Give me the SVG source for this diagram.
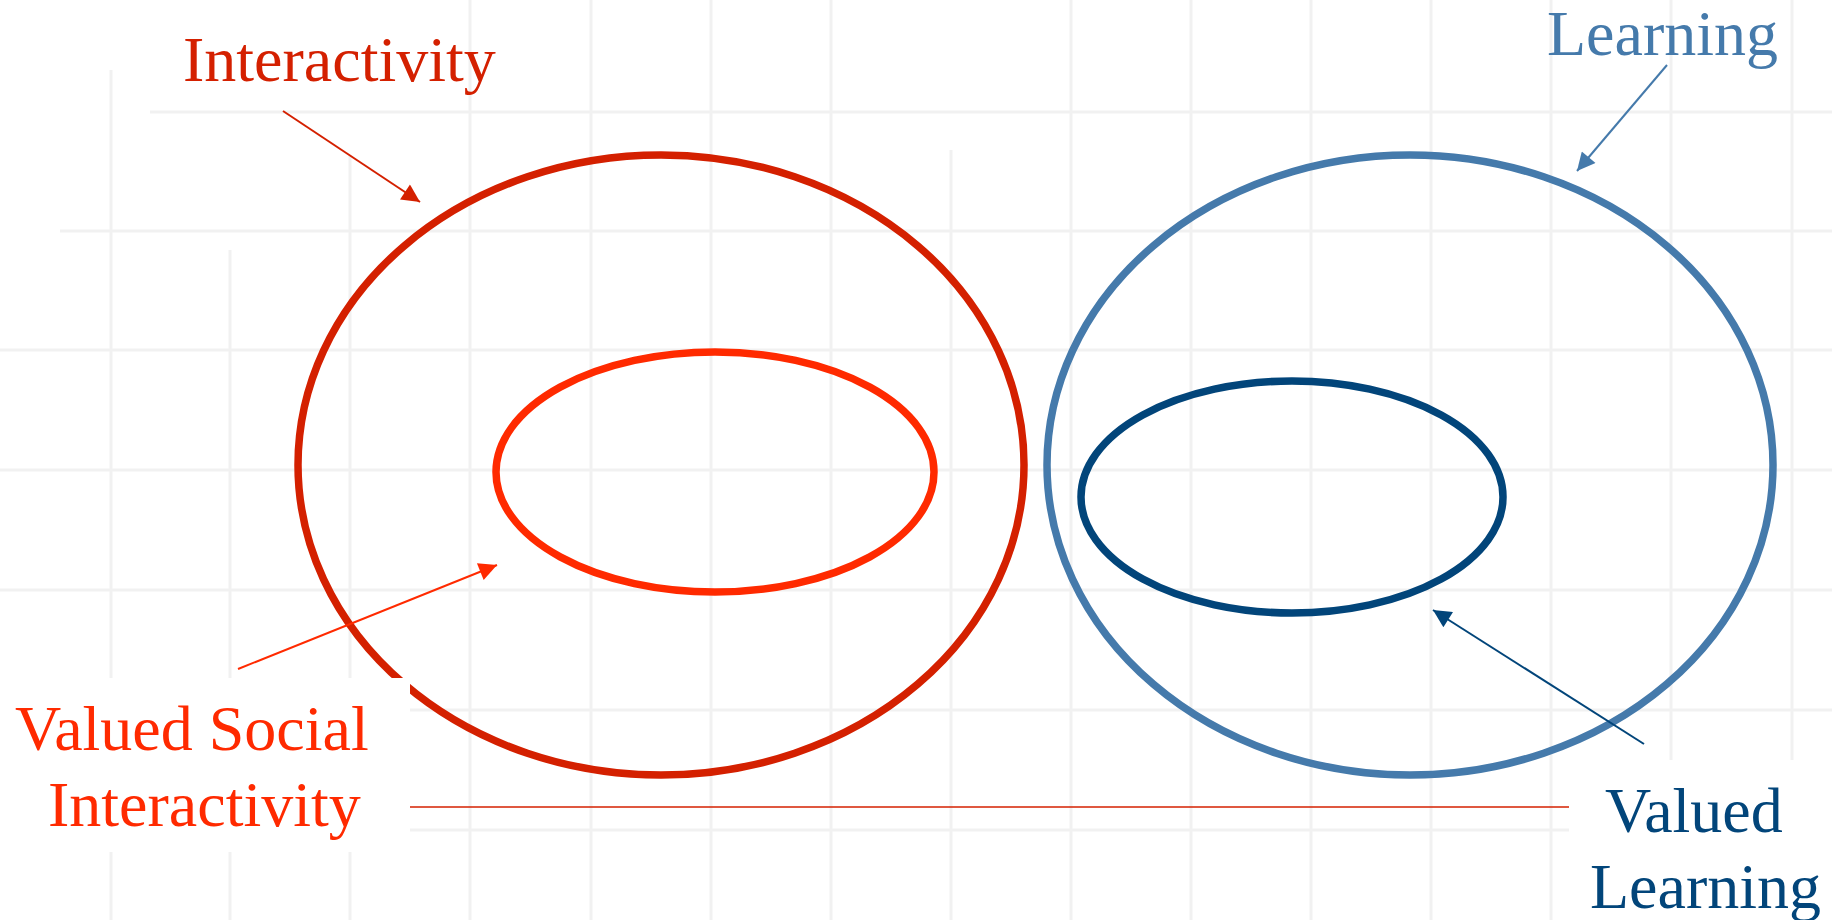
<svg xmlns="http://www.w3.org/2000/svg" width="1832" height="920" viewBox="0 0 1832 920">
  <style>
    .grid line { stroke: #f1f1f1; stroke-width: 3; }
    .ring { fill: none; stroke-width: 7.5; }
    .lbl { font-family: "Liberation Serif", "Times New Roman", serif; font-size: 64px; }
    .conn { stroke-width: 2; fill: none; }
  </style>
  <defs>
    <marker id="ah-red" viewBox="0 0 10 10" refX="10" refY="5" markerWidth="24" markerHeight="18" markerUnits="userSpaceOnUse" orient="auto"><path d="M0,0 L10,5 L0,10 z" fill="#D42000"/></marker>
    <marker id="ah-bright" viewBox="0 0 10 10" refX="10" refY="5" markerWidth="24" markerHeight="18" markerUnits="userSpaceOnUse" orient="auto"><path d="M0,0 L10,5 L0,10 z" fill="#FF2A00"/></marker>
    <marker id="ah-steel" viewBox="0 0 10 10" refX="10" refY="5" markerWidth="24" markerHeight="18" markerUnits="userSpaceOnUse" orient="auto"><path d="M0,0 L10,5 L0,10 z" fill="#457AAB"/></marker>
    <marker id="ah-navy" viewBox="0 0 10 10" refX="10" refY="5" markerWidth="24" markerHeight="18" markerUnits="userSpaceOnUse" orient="auto"><path d="M0,0 L10,5 L0,10 z" fill="#02457A"/></marker>
  </defs>
  <rect width="1832" height="920" fill="#ffffff"/>
  <g class="grid" id="grid">
    <line x1="111" y1="70" x2="111" y2="920"/>
    <line x1="230" y1="250" x2="230" y2="920"/>
    <line x1="350" y1="155" x2="350" y2="920"/>
    <line x1="470" y1="0" x2="470" y2="920"/>
    <line x1="591" y1="0" x2="591" y2="920"/>
    <line x1="711" y1="0" x2="711" y2="920"/>
    <line x1="831" y1="0" x2="831" y2="920"/>
    <line x1="951" y1="150" x2="951" y2="920"/>
    <line x1="1071" y1="0" x2="1071" y2="920"/>
    <line x1="1191" y1="0" x2="1191" y2="920"/>
    <line x1="1311" y1="0" x2="1311" y2="920"/>
    <line x1="1431" y1="0" x2="1431" y2="920"/>
    <line x1="1551" y1="0" x2="1551" y2="920"/>
    <line x1="1671" y1="0" x2="1671" y2="920"/>
    <line x1="1792" y1="0" x2="1792" y2="920"/>
    <line x1="150" y1="112" x2="1832" y2="112"/>
    <line x1="60" y1="231" x2="1832" y2="231"/>
    <line x1="0" y1="350" x2="1832" y2="350"/>
    <line x1="0" y1="470" x2="1832" y2="470"/>
    <line x1="0" y1="590" x2="1832" y2="590"/>
    <line x1="0" y1="710" x2="1832" y2="710"/>
    <line x1="0" y1="830" x2="1832" y2="830"/>
  </g>
  <g id="interactivity">
    <ellipse class="ring" cx="661" cy="465" rx="363" ry="310" stroke="#D42000"/>
    <text class="lbl" x="183" y="81" fill="#D42000">Interactivity</text>
  </g>
  <g id="valued-social-interactivity">
    <ellipse class="ring" cx="715" cy="472" rx="219" ry="120" stroke="#FF2A00"/>
  </g>
  <g id="learning">
    <ellipse class="ring" cx="1410" cy="465" rx="363" ry="310" stroke="#457AAB"/>
    <text class="lbl" x="1547" y="55" fill="#457AAB">Learning</text>
  </g>
  <g id="valued-learning">
    <ellipse class="ring" cx="1292" cy="497" rx="211" ry="116" stroke="#02457A"/>
  </g>
  <g id="label-boxes">
    <rect x="0" y="678" width="410" height="174" fill="#ffffff"/>
    <rect x="1569" y="760" width="263" height="160" fill="#ffffff"/>
  </g>
  <g id="valued-social-label">
    <text class="lbl" x="15" y="750" fill="#FF2A00">Valued Social</text>
    <text class="lbl" x="48" y="826" fill="#FF2A00">Interactivity</text>
  </g>
  <g id="valued-learning-label">
    <text class="lbl" x="1605" y="832" fill="#02457A">Valued</text>
    <text class="lbl" x="1590" y="908" fill="#02457A">Learning</text>
  </g>
  <g id="connectors">
    <line class="conn" x1="283" y1="111" x2="420" y2="202" stroke="#D42000" marker-end="url(#ah-red)"/>
    <line class="conn" x1="1667" y1="65" x2="1577" y2="171" stroke="#457AAB" marker-end="url(#ah-steel)"/>
    <line class="conn" x1="238" y1="669" x2="497" y2="565" stroke="#FF2A00" marker-end="url(#ah-bright)"/>
    <line class="conn" x1="1644" y1="744" x2="1433" y2="610" stroke="#02457A" marker-end="url(#ah-navy)"/>
    <line x1="410" y1="807" x2="1569" y2="807" stroke="#D42000" stroke-width="1.5"/>
  </g>
</svg>
